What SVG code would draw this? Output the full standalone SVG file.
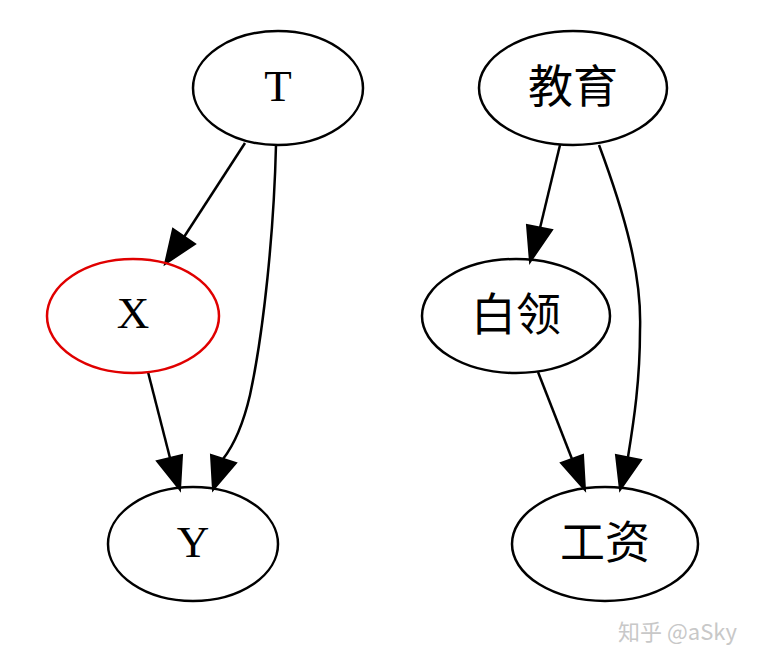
<svg xmlns="http://www.w3.org/2000/svg" width="760" height="666" viewBox="0 0 760 666">
<style>
.node ellipse{fill:none;stroke:#000;stroke-width:2.5}
.node text{font-family:"Liberation Serif","Noto Sans CJK SC",serif;font-size:45px;text-anchor:middle;fill:#000}
.edge path{fill:none;stroke:#000;stroke-width:2.5}
.edge polygon{fill:#000;stroke:#000;stroke-width:2}
.wm{font-family:"Noto Sans CJK SC","Liberation Sans",sans-serif;font-size:22px;fill:#c8c8c8}
</style>
<rect width="760" height="666" fill="#fff"/>
<g id="edges" class="edge">
<path d="M245,143 L184,237"/>
<polygon points="165,264 173,229 195,244"/>
<path d="M276,145 C274,230 264,330 250,395 C243,425 234,445 223,459"/>
<polygon points="213,490 211,455 236,463"/>
<path d="M148,372 L170,458"/>
<polygon points="180,490 157,461 182,455"/>
<path d="M560,145 L540,228"/>
<polygon points="530,262 527,225 552,230"/>
<path d="M599,145 C625,215 642,275 640,330 C640,380 634,420 628,457"/>
<polygon points="620,490 616,455 641,460"/>
<path d="M538,372 L572,459"/>
<polygon points="585,490 561,463 583,455"/>
</g>
<g id="T" class="node"><ellipse cx="278" cy="88" rx="85" ry="57"/><text x="278" y="101">T</text></g>
<g id="X" class="node"><ellipse cx="133" cy="316" rx="86" ry="57" style="stroke:#e00000"/><text x="133" y="328">X</text></g>
<g id="Y" class="node"><ellipse cx="193" cy="544" rx="85" ry="57"/><text x="193" y="557">Y</text></g>
<g id="jiaoyu" class="node"><ellipse cx="573" cy="88" rx="94" ry="57"/><text x="573" y="103">教育</text></g>
<g id="bailing" class="node"><ellipse cx="516" cy="316" rx="94" ry="57"/><text x="516" y="331">白领</text></g>
<g id="gongzi" class="node"><ellipse cx="605" cy="544" rx="93" ry="57"/><text x="605" y="559">工资</text></g>
<text class="wm" x="618" y="640">知乎 @aSky</text>
</svg>
